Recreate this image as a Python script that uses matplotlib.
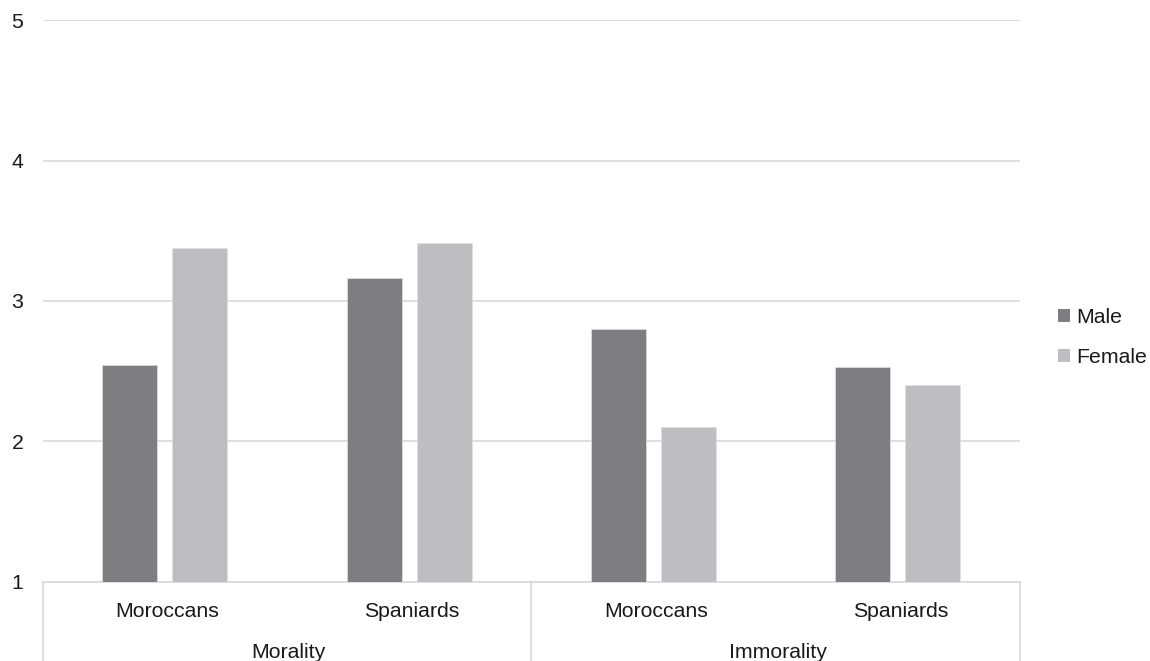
import numpy as np
import matplotlib
matplotlib.use('Agg')
import matplotlib.pyplot as plt
from matplotlib.patches import Patch

plt.rcParams['font.family'] = ['Liberation Sans', 'DejaVu Sans']

groups = ['Morality', 'Immorality']
subgroups = ['Moroccans', 'Spaniards', 'Moroccans', 'Spaniards']
male = [2.54, 3.16, 2.80, 2.53]
female = [3.38, 3.41, 2.10, 2.40]
series_names = ['Male', 'Female']

c_male = '#7d7e82'
c_female = '#bdbec1'
c_grid = '#d9d9d9'
c_text = '#1a1a1a'
fs = 15.3

fig = plt.figure(figsize=(11.5, 6.61), dpi=100)
ax = fig.add_axes([42.5/1150, 1-581.5/661, (1020-42.5)/1150, (581.5-20.3)/661])

x = np.arange(len(subgroups))
w = 0.225
gap = 0.0307
ax.bar(x - (w/2 + gap), male, width=w, color=c_male, edgecolor='#e0e0e0', linewidth=0.5, zorder=3)
ax.bar(x + (w/2 + gap), female, width=w, color=c_female, edgecolor='#e0e0e0', linewidth=0.5, zorder=3)

ax.set_xlim(-0.5, 3.5)
ax.set_ylim(1, 5)
ax.set_yticks([1, 2, 3, 4, 5])
ax.yaxis.grid(True, color=c_grid, linewidth=1.2, zorder=0)
ax.set_axisbelow(True)
for s in ['top', 'right', 'left']:
    ax.spines[s].set_visible(False)
ax.spines['bottom'].set_color(c_grid)
ax.spines['bottom'].set_linewidth(1.2)
ax.tick_params(axis='y', length=0, pad=13.7, labelsize=fs, labelcolor=c_text)
ax.set_xticks([])

# two level category axis
tr = ax.get_xaxis_transform()
for b in [-0.5, 1.5, 3.5]:
    ax.plot([b, b], [0, -0.3], color=c_grid, linewidth=1.2, transform=tr, clip_on=False)
for i, lab in enumerate(subgroups):
    ax.text(x[i] + 0.012, -0.0624, lab, transform=tr, ha='center', va='baseline',
            fontsize=fs, color=c_text)
for j, g in enumerate(groups):
    ax.text(0.5 + 2*j + 0.008, -0.1355, g, transform=tr, ha='center', va='baseline',
            fontsize=fs, color=c_text)

handles = [Patch(facecolor=c_male), Patch(facecolor=c_female)]
fig.legend(handles, series_names, loc='center left', bbox_to_anchor=(1058/1150, 1-337.5/661),
           frameon=False, fontsize=fs, handlelength=0.56, handleheight=0.56,
           handletextpad=0.28, labelspacing=1.03, borderpad=0, borderaxespad=0,
           labelcolor=c_text)

fig.savefig('out.png', dpi=100)
